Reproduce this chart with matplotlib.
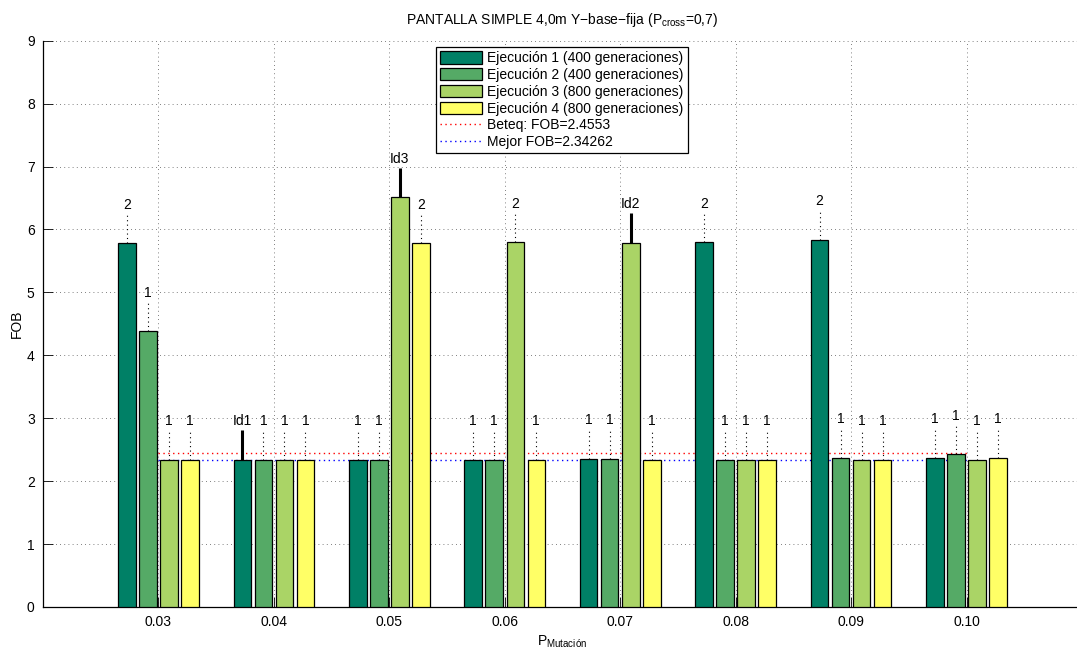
import matplotlib
matplotlib.use("Agg")
import matplotlib.pyplot as plt
import numpy as np

plt.rcParams['font.family'] = ['Liberation Sans', 'DejaVu Sans']
plt.rcParams['mathtext.fontset'] = 'custom'
plt.rcParams['mathtext.rm'] = 'Liberation Sans'
plt.rcParams['mathtext.it'] = 'Liberation Sans'

# ---- data ----
p_mut = [0.03, 0.04, 0.05, 0.06, 0.07, 0.08, 0.09, 0.10]
tick_labels = ['0.03', '0.04', '0.05', '0.06', '0.07', '0.08', '0.09', '0.10']
series_names = ['Ejecución 1 (400 generaciones)', 'Ejecución 2 (400 generaciones)',
                'Ejecución 3 (800 generaciones)', 'Ejecución 4 (800 generaciones)']
run1 = [5.78, 2.343, 2.343, 2.343, 2.36, 5.80, 5.84, 2.37]
run2 = [4.38, 2.343, 2.343, 2.343, 2.36, 2.343, 2.37, 2.43]
run3 = [2.343, 2.343, 6.51, 5.80, 5.79, 2.343, 2.343, 2.343]
run4 = [2.343, 2.343, 5.78, 2.343, 2.343, 2.343, 2.343, 2.37]
lab1 = ['2', 'Id1', '1', '1', '1', '2', '2', '1']
lab2 = ['1', '1', '1', '1', '1', '1', '1', '1']
lab3 = ['1', '1', 'Id3', '2', 'Id2', '1', '1', '1']
lab4 = ['1', '1', '2', '1', '1', '1', '1', '1']
beteq = 2.4553
mejor = 2.34262

colors = ['#008066', '#55AA66', '#AAD466', '#FFFF66']

fig = plt.figure(figsize=(10.77, 6.55), dpi=100)
W, H = 1077, 655
ax = fig.add_axes([43 / W, (H - 607) / H, (1082 - 43) / W, (607 - 40.7) / H])

series = [run1, run2, run3, run4]
labels = [lab1, lab2, lab3, lab4]
step = 0.00182
width = 0.00152
offsets = [-1.5 * step, -0.5 * step, 0.5 * step, 1.5 * step]

handles = []
for s, (vals, labs, col, off) in enumerate(zip(series, labels, colors, offsets)):
    xs = np.array(p_mut) + off
    b = ax.bar(xs, vals, width=width, color=col, edgecolor='black', linewidth=0.9,
               label=series_names[s], zorder=3)
    handles.append(b)
    for x, v, l in zip(xs, vals, labs):
        if l.startswith('Id'):
            ax.plot([x, x], [v, v + 0.47], color='black', lw=2.2, zorder=4,
                    solid_capstyle='butt')
        else:
            ax.plot([x, x], [v, v + 0.47], color='black', lw=0.8,
                    linestyle=(0, (1, 3)), zorder=4)
        ax.text(x, v + 0.5, l, ha='center', va='bottom', fontsize=10, zorder=5)

l1, = ax.plot([p_mut[0], p_mut[-1]], [beteq, beteq], color='red', lw=1.0,
              linestyle=(0, (1, 2.5)), label='Beteq: FOB=2.4553', zorder=2)
l2, = ax.plot([p_mut[0], p_mut[-1]], [mejor, mejor], color='blue', lw=1.0,
              linestyle=(0, (1, 2.5)), label='Mejor FOB=2.34262', zorder=2)
handles += [l1, l2]

ax.set_xlim(0.02, 0.11)
ax.set_ylim(0, 9)
ax.set_xticks(p_mut)
ax.set_xticklabels(tick_labels)
ax.set_yticks(range(0, 10))
ax.tick_params(direction='in', length=7, width=0.6, labelsize=10, pad=6)
ax.grid(True, color='#555555', linestyle=(0, (1, 4)), linewidth=0.6, zorder=0)
ax.set_axisbelow(True)
for sp in ['top', 'right']:
    ax.spines[sp].set_visible(False)
for sp in ['left', 'bottom']:
    ax.spines[sp].set_linewidth(0.9)

ax.set_title('PANTALLA SIMPLE 4,0m Y−base−fija (P$_{\\mathrm{cross}}$=0,7)',
             fontsize=10, pad=12)
ax.set_ylabel('FOB', fontsize=10, labelpad=2)
ax.set_xlabel('P$_{\\mathrm{Mutación}}$', fontsize=10, labelpad=3)

leg = ax.legend(handles=handles, loc='upper left',
                bbox_to_anchor=((436 - 43) / 1039, (607 - 47) / 566.3),
                borderaxespad=0, fontsize=10, frameon=True, fancybox=False,
                edgecolor='black', framealpha=1, handlelength=3.0, handleheight=1.0,
                handletextpad=0.4, labelspacing=0.2, borderpad=0.3)
leg.get_frame().set_linewidth(0.9)
leg.set_zorder(10)

fig.savefig('out.png', dpi=100)
